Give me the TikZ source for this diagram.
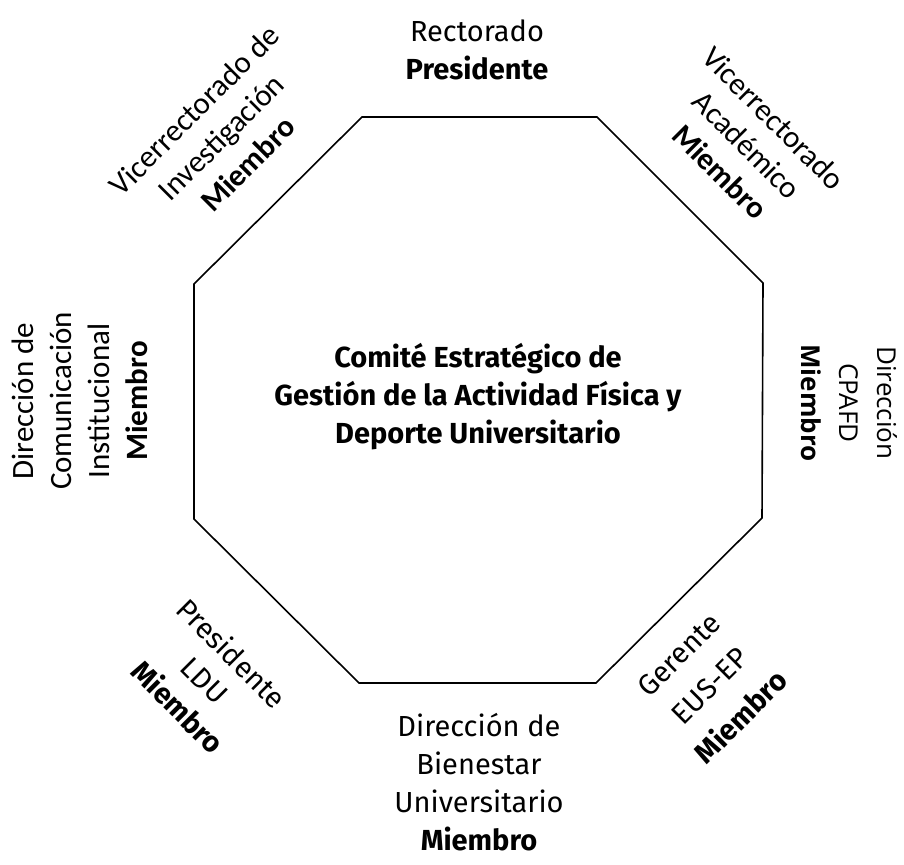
\documentclass[tikz,border=0pt]{standalone}
\usepackage{fontspec}
\setmainfont{Fira Sans}
\newfontfamily\calib{Carlito}
\newfontfamily\rightf{Open Sans}
\begin{document}
\begin{tikzpicture}[x=1pt,y=-1pt,
  octo/.style={draw=black, line width=1.6pt, line join=miter},
  lbl/.style={align=center, inner sep=0pt, font=\fontsize{29}{38}\selectfont},
  clbl/.style={align=center, inner sep=0pt, font=\calib\fontsize{31}{38}\selectfont},
  rlbl/.style={align=center, inner sep=0pt, font=\rightf\fontsize{26}{38}\selectfont},
  ctr/.style={align=center, inner sep=0pt, font=\bfseries\fontsize{29}{38}\selectfont}]
\useasboundingbox (0,0) rectangle (904,864);
\draw[octo] (362,117) -- (597,117) -- (763,283) -- (762,518) -- (596,683) -- (359,683) -- (194,519) -- (194,284) -- cycle;
\node[ctr] (center) at (478,397) {Comité Estratégico de\\Gestión de la Actividad Física y\\Deporte Universitario};
\node[lbl] (top) at (477,50) {Rectorado\\\textbf{Presidente}};
\node[lbl] (bottom) at (479,782) {Dirección de\\Bienestar\\Universitario\\\textbf{Miembro}};
\node[clbl, rotate=90] (left) at (80,401) {Dirección de\\Comunicación\\Institucional\\\textbf{Miembro}};
\node[rlbl, rotate=-90] (right) at (849,403) {Dirección\\CPAFD\\\textbf{Miembro}};
\node[clbl, rotate=45] (ul) at (221,137) {Vicerrectorado de\\Investigación\\\textbf{Miembro}};
\node[clbl, rotate=-45] (ur) at (747,145) {Vicerrectorado\\Académico\\\textbf{Miembro}};
\node[lbl, rotate=-45] (ll) at (205,680) {Presidente\\LDU\\\textbf{Miembro}};
\node[lbl, rotate=45, font=\fontsize{29}{44}\selectfont] (lr) at (710,686) {Gerente\\EUS-EP\\\textbf{Miembro}};
\end{tikzpicture}
\end{document}
